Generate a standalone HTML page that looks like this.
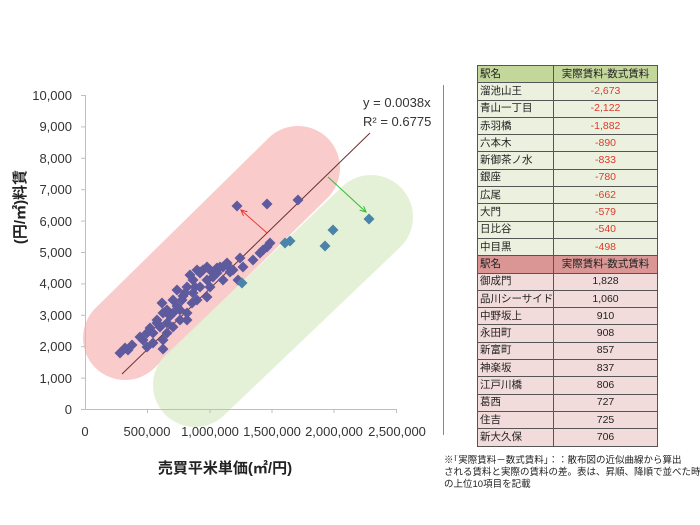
<!DOCTYPE html>
<html><head><meta charset="utf-8"><style>
body{margin:0;background:#fff;width:700px;height:525px;overflow:hidden;font-family:"Liberation Sans","Noto Sans CJK JP",sans-serif;}
table{position:absolute;left:477px;top:65px;border-collapse:collapse;font-size:10.5px;table-layout:fixed;width:180px}
td{border:1px solid #555;height:16.3px;padding:0 2px;line-height:15px;color:#222;white-space:nowrap;overflow:hidden}
td.n{text-align:center}
.g td{background:#ebf1de}.g td.n{color:#e03a2a}
.gh td{background:#c4d79b}.rh td{background:#d99694}.r td{background:#f2dcdb}
.note{position:absolute;left:444px;top:455px;font-size:9.5px;line-height:12px;color:#222;width:256px;white-space:nowrap;overflow:hidden}
</style></head><body>
<svg width="700" height="525" style="position:absolute;left:0;top:0">
<line x1="125" y1="338" x2="298" y2="168" stroke="#f9c2c2" stroke-width="84" stroke-linecap="round" opacity="0.85"/>
<line x1="195" y1="385" x2="371" y2="217" stroke="#e3f0d3" stroke-width="84" stroke-linecap="round" opacity="0.9"/>
<g stroke="#bfbfbf" stroke-width="1">
<line x1="85.5" y1="95" x2="85.5" y2="409"/>
<line x1="85" y1="409.5" x2="397" y2="409.5"/>
<line x1="81" y1="95.5" x2="85" y2="95.5"/><line x1="81" y1="126.9" x2="85" y2="126.9"/><line x1="81" y1="158.3" x2="85" y2="158.3"/><line x1="81" y1="189.7" x2="85" y2="189.7"/><line x1="81" y1="221.1" x2="85" y2="221.1"/><line x1="81" y1="252.5" x2="85" y2="252.5"/><line x1="81" y1="283.9" x2="85" y2="283.9"/><line x1="81" y1="315.3" x2="85" y2="315.3"/><line x1="81" y1="346.7" x2="85" y2="346.7"/><line x1="81" y1="378.1" x2="85" y2="378.1"/><line x1="81" y1="409.5" x2="85" y2="409.5"/>
<line x1="147.5" y1="409" x2="147.5" y2="413"/><line x1="210" y1="409" x2="210" y2="413"/><line x1="272" y1="409" x2="272" y2="413"/><line x1="334" y1="409" x2="334" y2="413"/><line x1="396.5" y1="409" x2="396.5" y2="413"/>
</g>
<g font-size="13" fill="#333" text-anchor="end">
<text x="72" y="100">10,000</text><text x="72" y="131">9,000</text><text x="72" y="163">8,000</text><text x="72" y="194">7,000</text><text x="72" y="226">6,000</text><text x="72" y="257">5,000</text><text x="72" y="288">4,000</text><text x="72" y="320">3,000</text><text x="72" y="351">2,000</text><text x="72" y="383">1,000</text><text x="72" y="414">0</text>
</g>
<g font-size="13" fill="#333" text-anchor="middle">
<text x="85" y="436">0</text><text x="147" y="436">500,000</text><text x="210" y="436">1,000,000</text><text x="272" y="436">1,500,000</text><text x="334" y="436">2,000,000</text><text x="397" y="436">2,500,000</text>
</g>
<text x="225" y="473" font-size="15" font-weight="bold" text-anchor="middle" fill="#222">売買平米単価(㎡/円)</text>
<text transform="translate(25,207) rotate(-90)" font-size="15" font-weight="bold" text-anchor="middle" fill="#222">(円/㎡)料賃</text>
<text x="363" y="107" font-size="13" fill="#333">y = 0.0038x</text>
<text x="363" y="126" font-size="13" fill="#333">R² = 0.6775</text>
<line x1="122" y1="374" x2="370" y2="133" stroke="#6b3030" stroke-width="1"/>
<defs><path id="d" d="M0,-5.5L5.5,0L0,5.5L-5.5,0Z"/>
<marker id="ar" markerWidth="8" markerHeight="8" refX="6" refY="3" orient="auto"><path d="M0,0L6,3L0,6" fill="none" stroke="#e33" stroke-width="1"/></marker>
<marker id="ag" markerWidth="8" markerHeight="8" refX="6" refY="3" orient="auto"><path d="M0,0L6,3L0,6" fill="none" stroke="#3b3" stroke-width="1"/></marker></defs>
<line x1="267" y1="233" x2="241" y2="210" stroke="#e33" stroke-width="1" marker-end="url(#ar)"/>
<line x1="328" y1="177" x2="366" y2="212" stroke="#3b3" stroke-width="1" marker-end="url(#ag)"/>
<g fill="#5e5a9e">
<use href="#d" x="237" y="206"/><use href="#d" x="267" y="204"/><use href="#d" x="298" y="200"/>
<use href="#d" x="267" y="247"/><use href="#d" x="263" y="250"/><use href="#d" x="270" y="243"/><use href="#d" x="260" y="253"/><use href="#d" x="253" y="260"/><use href="#d" x="240" y="258"/><use href="#d" x="243" y="267"/><use href="#d" x="233" y="270"/><use href="#d" x="238" y="280"/><use href="#d" x="227" y="263"/><use href="#d" x="223" y="267"/><use href="#d" x="217" y="268"/><use href="#d" x="213" y="272"/><use href="#d" x="207" y="267"/><use href="#d" x="200" y="272"/><use href="#d" x="197" y="270"/><use href="#d" x="190" y="275"/>
<use href="#d" x="120" y="353"/><use href="#d" x="125" y="348"/><use href="#d" x="132" y="345"/><use href="#d" x="147" y="347"/><use href="#d" x="143" y="340"/><use href="#d" x="153" y="333"/><use href="#d" x="160" y="327"/><use href="#d" x="157" y="320"/><use href="#d" x="167" y="323"/><use href="#d" x="163" y="340"/><use href="#d" x="173" y="313"/><use href="#d" x="162" y="303"/><use href="#d" x="180" y="310"/><use href="#d" x="187" y="313"/><use href="#d" x="187" y="320"/><use href="#d" x="182" y="300"/><use href="#d" x="193" y="293"/><use href="#d" x="200" y="287"/><use href="#d" x="193" y="280"/><use href="#d" x="207" y="280"/><use href="#d" x="213" y="277"/><use href="#d" x="200" y="273"/><use href="#d" x="187" y="287"/><use href="#d" x="173" y="300"/><use href="#d" x="167" y="310"/><use href="#d" x="153" y="343"/><use href="#d" x="147" y="333"/><use href="#d" x="163" y="313"/><use href="#d" x="173" y="327"/><use href="#d" x="163" y="349"/><use href="#d" x="157" y="323"/><use href="#d" x="177" y="290"/><use href="#d" x="185" y="293"/><use href="#d" x="203" y="270"/><use href="#d" x="210" y="270"/><use href="#d" x="217" y="273"/><use href="#d" x="220" y="267"/><use href="#d" x="227" y="265"/><use href="#d" x="230" y="272"/><use href="#d" x="223" y="280"/><use href="#d" x="197" y="300"/><use href="#d" x="207" y="297"/><use href="#d" x="180" y="320"/><use href="#d" x="167" y="333"/><use href="#d" x="140" y="337"/><use href="#d" x="128" y="350"/><use href="#d" x="210" y="287"/><use href="#d" x="192" y="303"/><use href="#d" x="170" y="316"/><use href="#d" x="150" y="328"/><use href="#d" x="177" y="306"/><use href="#d" x="195" y="287"/><use href="#d" x="183" y="296"/>
</g>
<g fill="#4a84a8">
<use href="#d" x="369" y="219"/><use href="#d" x="333" y="230"/><use href="#d" x="325" y="246"/><use href="#d" x="285" y="243"/><use href="#d" x="290" y="241"/><use href="#d" x="242" y="283"/>
</g>
<line x1="443.5" y1="85" x2="443.5" y2="435" stroke="#888" stroke-width="1"/>
</svg>
<table>
<colgroup><col style="width:76px"><col style="width:104px"></colgroup>
<tr class="gh"><td>駅名</td><td class="n" style="color:#222">実際賃料-数式賃料</td></tr>
<tr class="g"><td>溜池山王</td><td class="n">-2,673</td></tr>
<tr class="g"><td>青山一丁目</td><td class="n">-2,122</td></tr>
<tr class="g"><td>赤羽橋</td><td class="n">-1,882</td></tr>
<tr class="g"><td>六本木</td><td class="n">-890</td></tr>
<tr class="g"><td>新御茶ノ水</td><td class="n">-833</td></tr>
<tr class="g"><td>銀座</td><td class="n">-780</td></tr>
<tr class="g"><td>広尾</td><td class="n">-662</td></tr>
<tr class="g"><td>大門</td><td class="n">-579</td></tr>
<tr class="g"><td>日比谷</td><td class="n">-540</td></tr>
<tr class="g"><td>中目黒</td><td class="n">-498</td></tr>
<tr class="rh"><td>駅名</td><td class="n">実際賃料-数式賃料</td></tr>
<tr class="r"><td>御成門</td><td class="n">1,828</td></tr>
<tr class="r"><td>品川シーサイド</td><td class="n">1,060</td></tr>
<tr class="r"><td>中野坂上</td><td class="n">910</td></tr>
<tr class="r"><td>永田町</td><td class="n">908</td></tr>
<tr class="r"><td>新富町</td><td class="n">857</td></tr>
<tr class="r"><td>神楽坂</td><td class="n">837</td></tr>
<tr class="r"><td>江戸川橋</td><td class="n">806</td></tr>
<tr class="r"><td>葛西</td><td class="n">727</td></tr>
<tr class="r"><td>住吉</td><td class="n">725</td></tr>
<tr class="r"><td>新大久保</td><td class="n">706</td></tr>
</table>
<div class="note">※｢実際賃料－数式賃料｣：：散布図の近似曲線から算出<br>される賃料と実際の賃料の差。表は、昇順、降順で並べた時<br>の上位10項目を記載</div>
</body></html>
